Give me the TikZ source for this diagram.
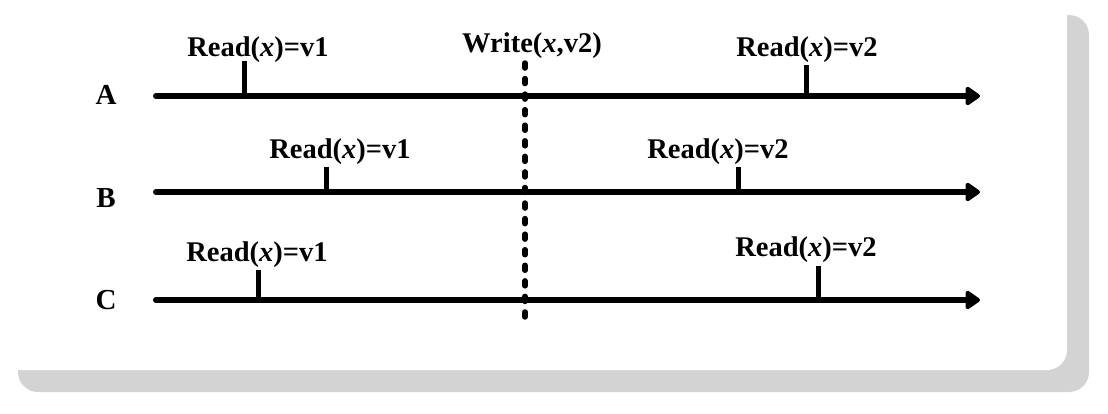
\documentclass[tikz,border=0pt]{standalone}
\usepackage{fontspec}
\setmainfont{Liberation Serif}
\usetikzlibrary{arrows.meta}
\definecolor{shadowgray}{RGB}{211,211,211}
\tikzset{
  timeline/.style={line width=6pt, line cap=round, -{Triangle[length=16pt,width=21pt,round]}},
  tick/.style={line width=5pt},
  opl/.style={font=\fontsize{28.5}{30}\selectfont\bfseries, anchor=base, inner sep=0pt},
  proc/.style={font=\fontsize{29}{30}\selectfont\bfseries, anchor=base, inner sep=0pt},
  syncline/.style={line width=5.5pt, line cap=round, dash pattern=on 5pt off 10.56pt}
}
\begin{document}
\begin{tikzpicture}[x=1pt,y=-1pt]
\useasboundingbox (0,0) rectangle (1108,413);
% panel with shadow
\fill[shadowgray, rounded corners=20pt] (18,15) rectangle (1089,392);
\fill[white, rounded corners=20pt] (-30,-30) rectangle (1067,370);

% process labels
\node[proc] (lA) at (106,104) {A};
\node[proc] (lB) at (106,207) {B};
\node[proc] (lC) at (106,309) {C};

% timelines
\coordinate (As) at (156,96);  \coordinate (Ae) at (980,96);
\coordinate (Bs) at (156,192); \coordinate (Be) at (980,192);
\coordinate (Cs) at (156,300); \coordinate (Ce) at (980,300);
\draw[timeline] (As) -- (Ae);
\draw[timeline] (Bs) -- (Be);
\draw[timeline] (Cs) -- (Ce);

% ticks
\coordinate (a1b) at (244,96);  \coordinate (a1t) at (244,61);
\coordinate (a2b) at (806,96);  \coordinate (a2t) at (806,65);
\coordinate (b1b) at (326,192); \coordinate (b1t) at (326,167);
\coordinate (b2b) at (738,192); \coordinate (b2t) at (738,167);
\coordinate (c1b) at (258,300); \coordinate (c1t) at (258,270);
\coordinate (c2b) at (818,300); \coordinate (c2t) at (818,266);
\draw[tick] (a1b) -- (a1t);
\draw[tick] (a2b) -- (a2t);
\draw[tick] (b1b) -- (b1t);
\draw[tick] (b2b) -- (b2t);
\draw[tick] (c1b) -- (c1t);
\draw[tick] (c2b) -- (c2t);

% operation labels
\node[opl] (ra1) at (258,56) {Read(\textit{x})=v1};
\node[opl] (wr)  at (532,52) {Write(\textit{x},v2)};
\node[opl] (ra2) at (807,56) {Read(\textit{x})=v2};
\node[opl] (rb1) at (340,158) {Read(\textit{x})=v1};
\node[opl] (rb2) at (718,158) {Read(\textit{x})=v2};
\node[opl] (rc1) at (257,261) {Read(\textit{x})=v1};
\node[opl] (rc2) at (806,256) {Read(\textit{x})=v2};

% synchronisation line
\coordinate (st) at (525,63);
\coordinate (sb) at (525,317);
\draw[syncline] (st) -- (sb);
\end{tikzpicture}
\end{document}
